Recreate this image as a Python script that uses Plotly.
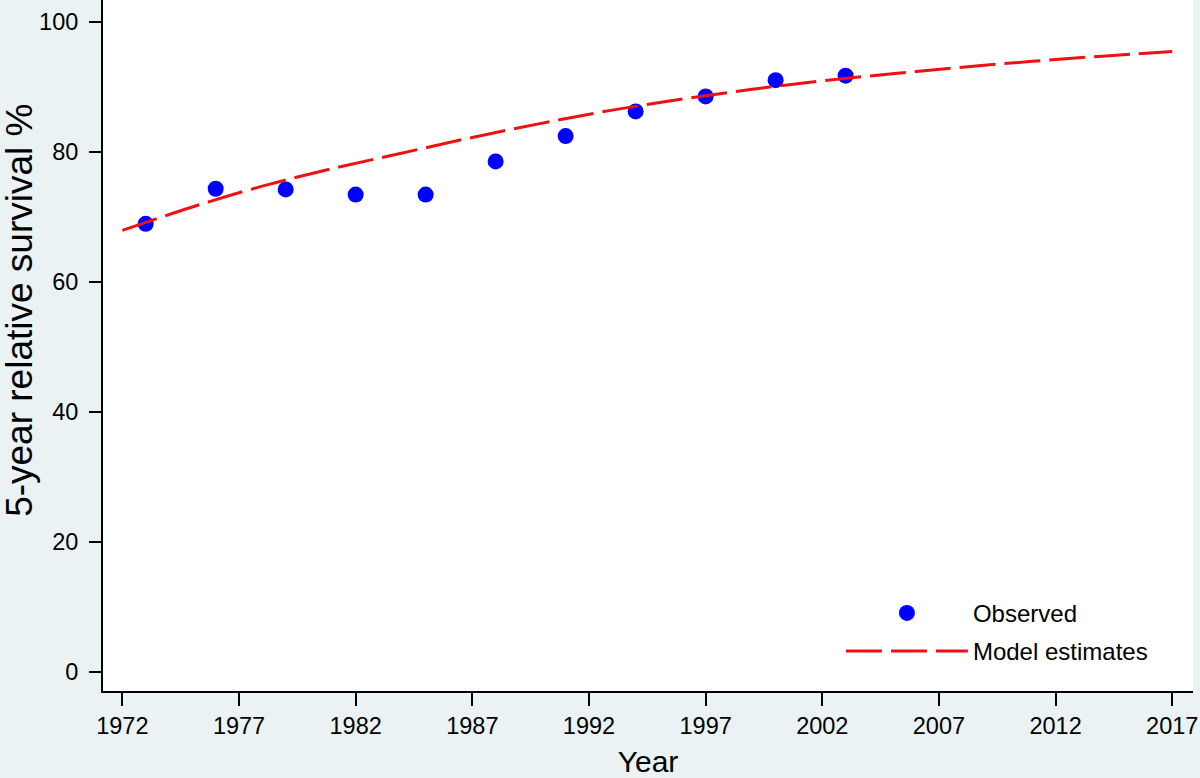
import plotly.graph_objects as go

# Observed 5-year relative survival
obs_years = [1973, 1976, 1979, 1982, 1985, 1988, 1991, 1994, 1997, 2000, 2003]
obs_values = [68.9, 74.3, 74.2, 73.4, 73.4, 78.5, 82.4, 86.2, 88.5, 91.0, 91.7]

# Model estimates
model_years = [1972, 1975, 1978, 1981, 1984, 1987, 1990, 1993, 1996, 1999, 2002, 2005, 2008, 2011, 2014, 2017]
model_values = [67.9, 71.5, 74.7, 77.4, 79.8, 82.2, 84.4, 86.4, 88.1, 89.6, 90.9, 92.0, 93.0, 93.9, 94.7, 95.4]

x_ticks = [1972, 1977, 1982, 1987, 1992, 1997, 2002, 2007, 2012, 2017]
y_ticks = [0, 20, 40, 60, 80, 100]

FONT = "Liberation Sans, Arial, sans-serif"

fig = go.Figure()
fig.add_trace(go.Scatter(
    x=obs_years, y=obs_values, mode="markers", name="Observed",
    marker=dict(color="#0000ff", size=16, line=dict(width=0)),
    legendgroup="a",
))
fig.add_trace(go.Scatter(
    x=model_years, y=model_values, mode="lines", name="Model estimates",
    line=dict(color="#ee1111", width=3, dash="36px,9px", shape="spline"),
    legendgroup="b",
))

fig.update_layout(
    width=1200, height=778,
    paper_bgcolor="#eaf2f3", plot_bgcolor="#ffffff",
    margin=dict(l=103, r=7, t=0, b=87),
    font=dict(family=FONT, color="#000000", size=24),
    showlegend=True,
    legend=dict(
        x=0.677, y=0.145, xanchor="left", yanchor="top",
        bgcolor="rgba(255,255,255,0)", borderwidth=0,
        font=dict(size=24, family=FONT, color="#000000"),
        itemwidth=122, tracegroupgap=4, traceorder="grouped",
    ),
    xaxis=dict(
        range=[1971.17, 2017.89], tickmode="array", tickvals=x_ticks,
        ticktext=[str(v) for v in x_ticks],
        showgrid=False, zeroline=False,
        showline=True, linecolor="#000000", linewidth=2,
        ticks="outside", ticklen=13, tickwidth=2, tickcolor="#000000",
        tickfont=dict(size=23.5, family=FONT, color="#000000"),
        title=dict(text="Year", font=dict(size=30, family=FONT, color="#000000"), standoff=21),
        automargin=False,
    ),
    yaxis=dict(
        range=[-2.97, 103.34], tickmode="array", tickvals=y_ticks,
        ticktext=[str(v) for v in y_ticks],
        showgrid=False, zeroline=False,
        showline=True, linecolor="#000000", linewidth=2,
        ticks="outside", ticklen=12, tickwidth=2, tickcolor="#000000",
        tickfont=dict(size=23.5, family=FONT, color="#000000"),
        ticklabelstandoff=6,
        automargin=False,
    ),
    annotations=[dict(
        text="5-year relative survival %", textangle=-90,
        xref="paper", yref="paper", x=-0.0765, y=0.551,
        xanchor="center", yanchor="middle", showarrow=False,
        font=dict(size=37, family=FONT, color="#000000"),
    )],
)

fig.write_html(
    "out.html",
    config={"displayModeBar": False},
    post_script="document.body.style.margin='0px';document.body.style.padding='0px';",
)
